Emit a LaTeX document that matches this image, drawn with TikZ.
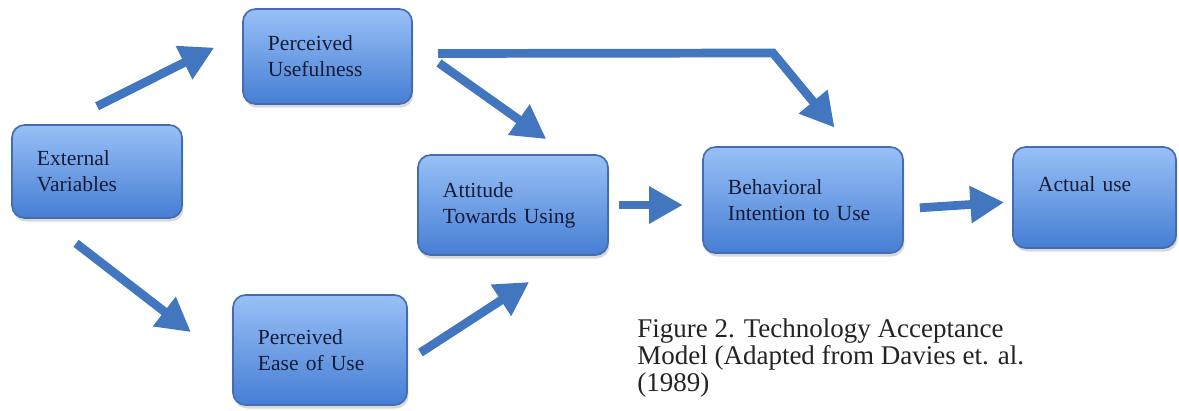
\documentclass[tikz,border=0pt]{standalone}
\usepackage{fontspec}
\setmainfont{Liberation Serif}
\usetikzlibrary{arrows.meta,shadows}

\definecolor{boxtop}{RGB}{152,192,246}
\definecolor{boxbottom}{RGB}{70,126,212}
\definecolor{boxline}{RGB}{68,108,178}
\definecolor{arrowblue}{RGB}{66,118,190}
\definecolor{boxtext}{RGB}{20,28,55}
\definecolor{captiontext}{RGB}{35,35,35}

\tikzset{
  tambox/.style={draw=boxline, line width=1.2pt, rounded corners=9pt,
    top color=boxtop, bottom color=boxbottom,
    drop shadow={shadow xshift=1pt, shadow yshift=-2.5pt, opacity=0.3},
    align=left, text=boxtext, inner xsep=0.625cm,
    font=\fontsize{15.3pt}{18.5pt}\selectfont},
  bigarrow/.style={draw=arrowblue, line width=6.2pt,
    -{Triangle[length=24pt,width=25pt]}}
}

\begin{document}
\begin{tikzpicture}[x=0.025cm, y=-0.025cm]
    \useasboundingbox (0,0) rectangle (1179,410);

    % boxes of the model
    \node (ev) [tambox, text width=3cm, minimum height=2.325cm] at (97,171.5) {External\\Variables};
    \node (pu) [tambox, text width=2.975cm, minimum height=2.375cm] at (327.5,56.5) {Perceived\\Usefulness};
    \node (peu) [tambox, text width=3.1cm, minimum height=2.75cm] at (320,350) {Perceived\\Ease of Use};
    \node (atu) [tambox, text width=3.5cm, minimum height=2.5cm] at (513,205) {Attitude\\Towards Using};
    \node (bi) [tambox, text width=3.75cm, minimum height=2.65cm] at (803,200) {Behavioral\\Intention to Use};
    \node (au) [tambox, text width=2.825cm, minimum height=2.525cm] at (1094.5,197.5) {Actual use\\~};

    % caption
    \node (caption) [anchor=north west, inner sep=0pt, align=left, text=captiontext,
      font=\fontsize{19.2pt}{19.5pt}\selectfont] at (637,318)
      {Figure 2. Technology Acceptance\\Model (Adapted from Davies et. al.\\(1989)};

    % arrows
    \coordinate (bend) at (773,53);
    \draw[bigarrow, shorten <=1cm, shorten >=0.78cm] (ev.127.7) -- (pu.165.1);
    \draw[bigarrow, shorten <=1cm, shorten >=1.3cm] (ev.222.4) -- (peu.189.1);
    \draw[bigarrow, shorten <=0.8cm, shorten >=0.65cm] (pu.8.4) -- (atu.43.3);
    \draw[bigarrow, shorten <=0.63cm, shorten >=0.6cm] (pu.2.7) -- (bend) -- (bi.49.7);
    \draw[bigarrow, shorten <=0.375cm, shorten >=1.2cm] (peu.353.4) -- (atu.318.7);
    \draw[bigarrow, shorten <=0.25cm, shorten >=0.48cm] (atu.east) -- (bi.west |- atu.east);
    \draw[bigarrow, shorten <=0.4cm, shorten >=0.2cm] (bi.355.4) -- (au.183.5);
\end{tikzpicture}
\end{document}
